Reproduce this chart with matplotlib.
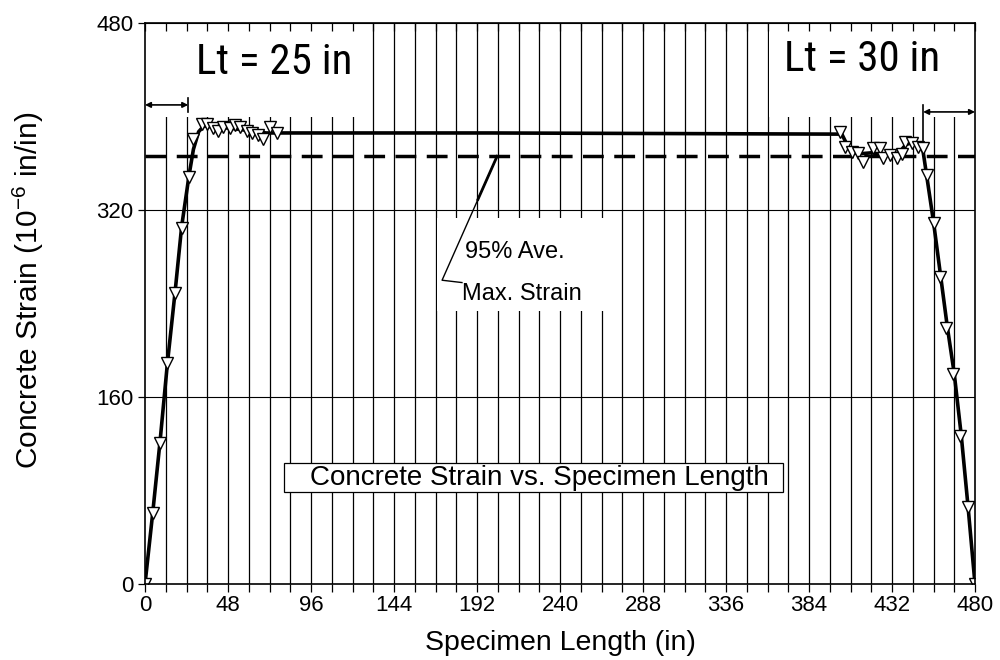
import numpy as np
import matplotlib.pyplot as plt
from matplotlib.patches import Rectangle

# --- datos ---
# marcadores (lecturas de deformacion)
x_pts = [0, 4.4, 8.7, 12.9, 17.4, 21.2, 25.5, 28.0, 32.8, 35.7, 39.4, 42.3, 45.2, 49.0,
         52.0, 55.0, 58.8, 61.7, 65.5, 68.4, 72.3, 76.2,
         402, 405, 408.7, 412.4, 415, 421, 425, 427, 431, 435, 438, 439.6, 443.6, 447,
         450, 452, 456, 460, 463.5, 467.5, 471.4, 476, 480]
y_pts = [0, 61, 121, 189, 249, 305, 348, 381, 394, 394, 390, 388, 391, 390,
         393, 391, 388, 386, 384, 381, 391, 386,
         387, 374, 370, 369, 361, 373, 373, 365, 367, 365, 368, 378, 377, 374,
         373, 350, 309, 263, 219, 180, 127, 66, 0]

# curva promedio (linea gruesa)
x_line = [0, 4.4, 8.7, 12.9, 17.4, 21.2, 25.5, 28, 31, 34, 40, 50, 60, 70, 80, 200, 403,
          407, 412, 420, 430, 436, 440, 444, 448, 450, 452, 456, 460, 464, 468, 472, 476, 480]
y_line = [0, 60, 122, 188, 250, 306, 350, 372, 387, 392, 391, 390, 388, 386, 386, 386, 385,
          373, 368, 369, 367, 369, 376, 378, 375, 370, 350, 310, 265, 220, 180, 128, 66, 0]

ave_max = 366  # 95% deformacion maxima promedio
lt_left = 25
lt_right = 30

x_ticks = list(range(0, 481, 48))
y_ticks = [0, 160, 320, 480]

narrow = ['Roboto Condensed', 'Liberation Sans']
plt.rcParams['font.family'] = ['Liberation Sans', 'DejaVu Sans']
plt.rcParams['mathtext.fontset'] = 'custom'
plt.rcParams['mathtext.rm'] = 'Liberation Sans'
plt.rcParams['mathtext.it'] = 'Liberation Sans'

fig = plt.figure(figsize=(10, 6.6), dpi=100)
ax = fig.add_axes([0.145, 0.115, 0.83, 0.85])

# cuadricula manual
for gx in range(12, 480, 12):
    ax.axvline(gx, color='black', lw=0.9, zorder=1)
for gy in [160, 320]:
    ax.axhline(gy, color='black', lw=0.8, zorder=1)

# cajas blancas sobre la cuadricula
ax.add_patch(Rectangle((0, 400), 131, 80, fc='white', ec='none', zorder=2))
ax.add_patch(Rectangle((361, 400), 119, 80, fc='white', ec='none', zorder=2))
ax.add_patch(Rectangle((169, 234), 100, 79, fc='white', ec='none', zorder=2))

ax.text(75, 446, 'Lt = 25 in', fontsize=31, family=narrow, ha='center', va='center', zorder=3)
ax.text(414.7, 449, 'Lt = 30 in', fontsize=31, family=narrow, ha='center', va='center', zorder=3)

# cotas de longitud de transferencia
ax.annotate('', xy=(0, 410), xytext=(lt_left, 410),
            arrowprops=dict(arrowstyle='<|-|>', color='black', lw=1.2, mutation_scale=8,
                            shrinkA=0, shrinkB=0), zorder=4)
ax.plot([lt_left, lt_left], [404, 416], color='black', lw=1.2, zorder=4)
ax.annotate('', xy=(480 - lt_right, 404), xytext=(480, 404),
            arrowprops=dict(arrowstyle='<|-|>', color='black', lw=1.2, mutation_scale=8,
                            shrinkA=0, shrinkB=0), zorder=4)
ax.plot([480 - lt_right, 480 - lt_right], [372, 410], color='black', lw=1.2, zorder=4)

# linea de 95%
ax.axhline(ave_max, color='black', lw=2.5, dashes=(6, 3), zorder=3)

# datos
ax.plot(x_line, y_line, color='black', lw=2.6, zorder=4)
ax.plot(x_pts, y_pts, linestyle='none', marker='v', ms=9, mfc='white', mec='black',
        mew=1.0, zorder=5)

# anotacion 95%
ax.plot([203.6, 171.8, 183.3], [ave_max, 260, 258], color='black', lw=1.0, zorder=4)
ax.plot([203.6, 192.5], [ave_max, 329], color='black', lw=2.0, zorder=4)
ax.text(185, 279, '95% Ave.', fontsize=17, va='baseline', ha='left', zorder=4)
ax.text(183.3, 243, 'Max. Strain', fontsize=17, va='baseline', ha='left', zorder=4)

# recuadro del titulo
ax.add_patch(Rectangle((80.4, 78.7), 288.6, 24.8, fc='white', ec='black', lw=0.9, zorder=3))
ax.text(227.9, 90.5, 'Concrete Strain vs. Specimen Length', fontsize=20, ha='center',
        va='center', zorder=4)

ax.set_xlim(0, 480)
ax.set_ylim(0, 480)
ax.set_xticks(x_ticks)
ax.set_xticks(range(0, 481, 12), minor=True)
ax.set_yticks(y_ticks)
ax.tick_params(axis='x', which='both', direction='out', length=6, width=0.9,
               labelsize=16, pad=2)
ax.tick_params(axis='y', which='both', direction='out', length=5, width=0.9, labelsize=16)

# marcas interiores arriba
top = ax.secondary_xaxis('top')
top.set_xticks(range(0, 481, 12))
top.tick_params(direction='in', length=6, width=0.9, labeltop=False)
top.set_zorder(6)

ax.set_xlabel('Specimen Length (in)', fontsize=20.5, va='baseline')
ax.xaxis.set_label_coords(0.5, -0.117)
ax.set_ylabel('Concrete Strain (10$^{-6}$ in/in)', fontsize=21.5)
ax.yaxis.set_label_coords(-0.119, 0.524)

for s in ax.spines.values():
    s.set_linewidth(1.2)
    s.set_zorder(6)

fig.savefig('out.png', dpi=100)
